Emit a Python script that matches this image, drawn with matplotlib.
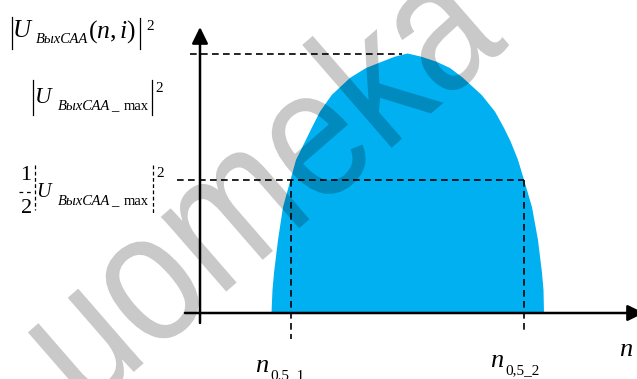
#!/usr/bin/env python3
# -*- coding: utf-8 -*-
"""
Sketch of the |U_ВыхСАА(n,i)|^2 response with the half-power points n_0.5_1 / n_0,5_2.
"""

import matplotlib

matplotlib.use("Agg")
import matplotlib.pyplot as plt
from matplotlib.font_manager import FontProperties
from matplotlib.lines import Line2D
from matplotlib.patches import PathPatch
from matplotlib.textpath import TextPath
from matplotlib.transforms import Affine2D

# --- data (n in arbitrary units, power relative to max) ---
N_LEFT = [71.5, 72.5, 74, 78, 83, 90.5, 96, 105, 111.7, 120, 131.7, 150, 166, 181.7, 195, 207.5]
P_LEFT = [0.0, 0.089, 0.154, 0.281, 0.408, 0.513, 0.590, 0.660, 0.713, 0.776, 0.840, 0.906, 0.944, 0.968, 0.988, 1.0]
N_RIGHT = [221, 236.7, 250, 263, 281.7, 295, 304, 310.7, 318, 324, 332, 338, 342, 343.5, 344]
P_RIGHT = [0.988, 0.968, 0.944, 0.906, 0.840, 0.776, 0.713, 0.660, 0.590, 0.513, 0.408, 0.281, 0.154, 0.089, 0.0]

P_MAX = 1.0
P_HALF = 0.513
N_PEAK = 202.0          # where the max dashed line stops
N_HALF = [90.5, 324.0]  # n_0.5_1, n_0,5_2

FILL = "#00B0F0"
W, H = 637, 379
SERIF = "Liberation Serif"
SUB = 10.5


def fxy(px, py):
    """pixel position -> figure fraction"""
    return px / W, 1.0 - py / H


def txt(fig, px, py, s, size, style="normal", **kw):
    x, y = fxy(px, py)
    fig.text(x, y, s, fontsize=size, family=SERIF, style=style, ha="left", va="baseline", **kw)


def vbar(fig, px, py0, py1, dashed=False):
    x0, y0 = fxy(px, py0)
    _, y1 = fxy(px, py1)
    ln = Line2D([x0, x0], [y0, y1], transform=fig.transFigure, color="black", lw=0.9,
                ls=(0, (3, 2)) if dashed else "-")
    fig.add_artist(ln)


def watermark(fig, s, cx, cy, em_x, em_y, angle):
    tp = TextPath((0, 0), s, size=1, prop=FontProperties(family="Liberation Sans"))
    ext = tp.get_extents()
    tr = (Affine2D().translate(-(ext.x0 + ext.x1) / 2, -0.27)
          .scale(em_x, em_y).rotate_deg(angle).translate(cx, H - cy))
    fig.add_artist(PathPatch(tp, transform=tr, fc="black", ec="none", alpha=0.21, zorder=10))


def main() -> None:
    plt.rcParams.update(
        {
            "mathtext.fontset": "custom",
            "mathtext.rm": SERIF,
            "mathtext.it": SERIF + ":italic",
            "mathtext.bf": SERIF + ":bold",
        }
    )

    fig = plt.figure(figsize=(W / 100, H / 100), dpi=100)
    ax = fig.add_axes([0, 0, 1, 1])
    ax.set_xlim(-200, 437)
    ax.set_ylim(-66 / 259.5, 313 / 259.5)
    ax.axis("off")

    # filled response
    ax.fill(N_LEFT + N_RIGHT, P_LEFT + P_RIGHT, color=FILL, lw=0, zorder=1)

    # dashed reference lines
    dash = dict(color="black", lw=1.2, ls=(0, (4, 2.6)), zorder=2)
    ax.plot([-10, N_PEAK], [P_MAX, P_MAX], **dash)
    ax.plot([-23, N_HALF[1]], [P_HALF, P_HALF], **dash)
    ax.plot([N_HALF[0], N_HALF[0]], [P_HALF, -0.10], **dash)
    ax.plot([N_HALF[1], N_HALF[1]], [P_HALF, -0.077], **dash)

    # axes with arrows
    arr = dict(arrowstyle="-|>,head_length=0.45,head_width=0.22", color="black", lw=1.8,
               mutation_scale=22, shrinkA=0, shrinkB=0)
    ax.annotate("", xy=(0, 286 / 259.5), xytext=(0, -10 / 259.5), arrowprops=arr,
                annotation_clip=False, zorder=3)
    ax.annotate("", xy=(444, 0), xytext=(-15, 0), arrowprops=arr,
                annotation_clip=False, zorder=3)

    # |U_ВыхСАА(n,i)|^2
    vbar(fig, 12.3, 17, 49)
    txt(fig, 13, 37, "U", 18, "italic")
    txt(fig, 36, 43, "ВыхСАА", SUB, "italic")
    x, y = fxy(88, 38)
    fig.text(x, y, r"$(n,i)$", fontsize=18.5, ha="left", va="baseline")
    vbar(fig, 140, 18, 49)
    txt(fig, 146, 30, "2", 11)

    # |U_ВыхСАА_max|^2
    vbar(fig, 33, 80, 115)
    txt(fig, 35, 103, "U", 16.5, "italic")
    txt(fig, 58, 110, "ВыхСАА", SUB, "italic")
    txt(fig, 111, 110, "_", SUB)
    txt(fig, 124, 110, "max", SUB)
    vbar(fig, 152, 80, 115)
    txt(fig, 155, 92, "2", 11)

    # 1/2 |U_ВыхСАА_max|^2
    txt(fig, 20, 180, "1", 16)
    txt(fig, 21, 213, "2", 16)
    x0, y0 = fxy(19, 192)
    x1, _ = fxy(33, 192)
    fig.add_artist(Line2D([x0, x1], [y0, y0], transform=fig.transFigure, color="black",
                          lw=0.9, ls=(0, (3, 3))))
    vbar(fig, 34.5, 165, 210, dashed=True)
    txt(fig, 36, 197, "U", 14.5, "italic")
    txt(fig, 58, 205, "ВыхСАА", SUB, "italic")
    txt(fig, 111, 205, "_", SUB)
    txt(fig, 124, 205, "max", SUB)
    vbar(fig, 153, 165, 213, dashed=True)
    txt(fig, 156, 177, "2", 11)

    # n labels
    txt(fig, 255, 372, "n", 19, "italic")
    txt(fig, 270, 379.5, "0.5_1", 11)
    txt(fig, 490, 367, "n", 19, "italic")
    txt(fig, 505, 374, "0,5_2", 11)
    txt(fig, 619, 356, "n", 19, "italic")

    # site watermark
    watermark(fig, "uomeka", 268, 188, 158, 188, 41)

    fig.savefig("out.png", dpi=100)
    plt.close(fig)


if __name__ == "__main__":
    main()
